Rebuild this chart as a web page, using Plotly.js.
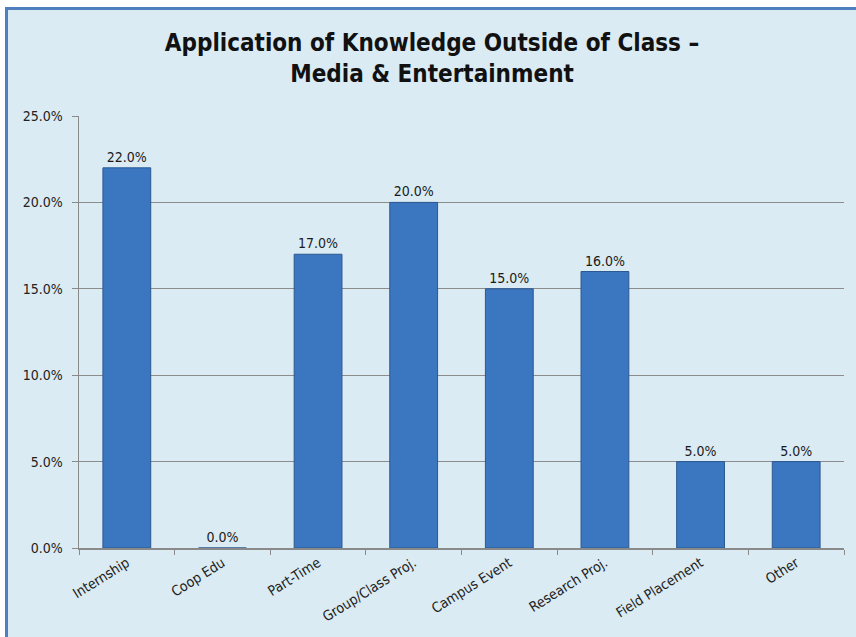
<!DOCTYPE html>
<html>
<head>
<meta charset="utf-8">
<script src="https://cdn.plot.ly/plotly-3.0.1.min.js"></script>
<style>
html, body { margin: 0; padding: 0; background: #ffffff; width: 856px; height: 637px; overflow: hidden; }
#chart { position: absolute; left: 5px; top: 7px; width: 848px; height: 627px;
  border-left: 3px solid #4f7fbf; border-top: 3px solid #4f7fbf; background: #dbebf3; }
</style>
</head>
<body>
<div id="chart"></div>
<script>
const categories = ["Internship", "Coop Edu", "Part-Time", "Group/Class Proj.", "Campus Event", "Research Proj.", "Field Placement", "Other"];
const values = [22.0, 0.0, 17.0, 20.0, 15.0, 16.0, 5.0, 5.0];
const yTickValues = [0, 5, 10, 15, 20, 25];

const fontFam = '"DejaVu Sans Condensed", "Liberation Sans Narrow", "Liberation Sans", Arial, sans-serif';

const trace = {
  type: 'bar',
  x: categories,
  y: values,
  marker: { color: '#3b77c0', line: { color: '#2b5891', width: 1 } },
  text: values.map(v => v.toFixed(1) + '%'),
  textposition: 'outside',
  textfont: { family: fontFam, size: 14, color: '#1a1a1a' },
  cliponaxis: false,
  hoverinfo: 'x+y'
};

const layout = {
  width: 848,
  height: 627,
  paper_bgcolor: '#dbebf3',
  plot_bgcolor: '#dbebf3',
  margin: { l: 71, r: 12, t: 106, b: 89 },
  bargap: 0.5,
  showlegend: false,
  title: {
    text: '<b>Application of Knowledge Outside of Class –<br>Media & Entertainment</b>',
    font: { family: fontFam, size: 24, color: '#111111' },
    x: 0.5, xanchor: 'center',
    y: 0.935, yanchor: 'top',
    automargin: false
  },
  xaxis: {
    type: 'category',
    tickangle: -32,
    tickson: 'boundaries',
    ticks: 'outside',
    ticklen: 5,
    tickcolor: '#8a8a8a',
    showline: true,
    linecolor: '#8a8a8a',
    linewidth: 1.5,
    showgrid: false,
    tickfont: { family: fontFam, size: 14, color: '#222222' }
  },
  yaxis: {
    range: [0, 25],
    tickvals: yTickValues,
    ticktext: yTickValues.map(v => v.toFixed(1) + '%'),
    ticks: 'outside',
    ticklen: 6,
    tickcolor: '#8a8a8a',
    ticklabelstandoff: 6,
    showline: true,
    linecolor: '#8a8a8a',
    linewidth: 1.5,
    showgrid: true,
    gridcolor: '#8c8c8c',
    gridwidth: 1,
    zeroline: false,
    tickfont: { family: fontFam, size: 14, color: '#222222' }
  }
};

Plotly.newPlot('chart', [trace], layout, { displayModeBar: false, staticPlot: true });
</script>
</body>
</html>
